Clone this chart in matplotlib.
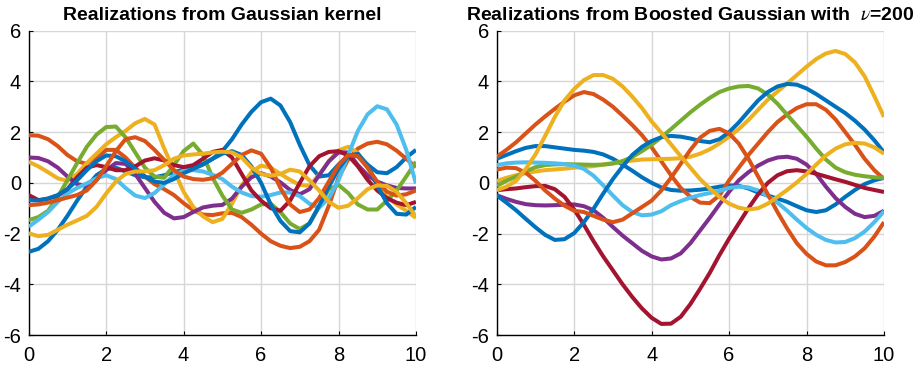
import numpy as np
import matplotlib
matplotlib.use("Agg")
import matplotlib.pyplot as plt

plt.rcParams['font.family'] = ['Liberation Sans', 'DejaVu Sans']
plt.rcParams['axes.unicode_minus'] = False
plt.rcParams['mathtext.fontset'] = 'stix'

# sample positions (every 0.25)
x = np.linspace(0, 10, 41)

# MATLAB default colour order
couleurs = ['#0072BD', '#D95319', '#EDB120', '#7E2F8E', '#77AC30', '#4DBEEE', '#A2142F']

# ---- Gaussian kernel (left) ----
g_bleu1 = [-2.72, -2.6, -2.3, -1.85, -1.3, -0.7, -0.15, 0.3, 0.55, 0.6, 0.45, 0.3, 0.22, 0.22, 0.3, 0.42,
           0.52, 0.62, 0.75, 0.95, 1.25, 1.72, 2.3, 2.8, 3.18, 3.32, 3.05, 2.4, 1.5, 0.7, 0.25, 0.3,
           0.72, 1.08, 1.05, 0.72, 0.42, 0.38, 0.62, 1.0, 1.3]
g_orange1 = [1.88, 1.86, 1.72, 1.45, 1.1, 0.85, 0.75, 0.95, 1.3, 1.3, 1.0, 0.6, 0.25, -0.05, -0.25, -0.48,
             -0.8, -1.08, -1.25, -1.27, -1.2, -1.18, -1.35, -1.65, -2.0, -2.3, -2.48, -2.57, -2.52, -2.3, -1.85, -0.9,
             0.2, 0.92, 1.35, 1.55, 1.62, 1.52, 1.27, 0.95, 0.62]
g_jaune1 = [0.83, 0.65, 0.42, 0.18, 0.08, 0.35, 0.78, 1.15, 1.52, 1.8, 2.05, 2.35, 2.52, 2.3, 1.35, 0.5,
            -0.35, -0.95, -1.32, -1.55, -1.42, -0.82, -0.1, 0.42, 0.68, 0.6, 0.35, 0.12, -0.08, -0.12, 0.32, 0.85,
            1.28, 1.42, 1.18, 0.6, -0.1, -0.55, -0.85, -1.1, -1.38]
g_violet = [1.0, 0.98, 0.85, 0.6, 0.25, -0.05, -0.12, 0.12, 0.5, 0.78, 0.75, 0.35, -0.2, -0.75, -1.18, -1.4,
            -1.35, -1.15, -0.97, -0.9, -0.87, -0.62, -0.15, 0.22, 0.38, 0.25, 0.02, -0.28, -0.45, -0.25, 0.3, 0.85,
            1.2, 1.2, 0.7, 0.3, 0.05, -0.1, -0.2, -0.22, -0.22]
g_vert = [-1.47, -1.35, -1.1, -0.55, 0.1, 0.78, 1.42, 1.9, 2.2, 2.22, 1.8, 1.2, 0.6, 0.25, 0.2, 0.7,
          1.25, 1.55, 1.1, 0.2, -0.5, -1.05, -1.18, -1.05, -0.85, -0.82, -1.15, -1.6, -1.82, -1.6, -0.95, -0.25,
          -0.08, -0.4, -0.85, -1.05, -1.05, -0.7, -0.3, 0.25, 0.83]
g_ciel = [-1.73, -1.45, -1.15, -0.75, -0.42, -0.2, -0.02, 0.18, 0.3, 0.15, -0.2, -0.5, -0.6, -0.4, -0.05, 0.3,
          0.48, 0.5, 0.45, 0.32, 0.15, -0.15, -0.38, -0.52, -0.55, -0.48, -0.38, -0.38, -0.52, -0.82, -0.98, -0.6,
          0.1, 1.1, 2.05, 2.7, 3.02, 2.9, 2.3, 1.3, -0.02]
g_bordeaux = [-0.48, -0.68, -0.62, -0.5, -0.25, 0.22, 0.6, 0.7, 0.62, 0.5, 0.5, 0.65, 0.88, 0.97, 0.88, 0.7,
              0.62, 0.7, 0.95, 1.22, 1.3, 1.0, 0.35, -0.3, -0.7, -1.0, -1.1, -0.7, 0.0, 0.65, 1.05, 1.22,
              1.25, 1.08, 0.65, 0.12, -0.3, -0.6, -0.78, -0.88, -0.75]
g_bleu2 = [-0.68, -0.7, -0.62, -0.48, -0.25, 0.1, 0.5, 0.85, 1.08, 1.05, 0.85, 0.55, 0.25, 0.05, 0.0, 0.15,
           0.38, 0.55, 0.72, 0.95, 1.15, 1.25, 1.1, 0.65, 0.0, -0.85, -1.5, -1.9, -1.95, -1.6, -0.9, -0.15,
           0.55, 1.05, 1.15, 0.7, -0.1, -0.8, -1.22, -1.25, -0.95]
g_orange2 = [-0.88, -0.85, -0.78, -0.68, -0.58, -0.48, -0.3, 0.1, 0.65, 1.25, 1.72, 1.8, 1.65, 1.3, 0.9, 0.5,
             0.25, 0.15, 0.12, 0.18, 0.4, 0.75, 1.1, 1.28, 1.15, 0.6, -0.2, -0.85, -1.15, -1.05, -0.6, 0.05,
             0.7, 1.1, 1.05, 0.6, 0.05, -0.35, -0.5, -0.45, -0.3]
g_jaune2 = [-1.99, -2.1, -2.05, -1.85, -1.65, -1.48, -1.3, -0.95, -0.42, 0.05, 0.35, 0.45, 0.45, 0.5, 0.7, 0.95,
            1.08, 1.12, 1.15, 1.2, 1.23, 1.2, 1.0, 0.6, 0.35, 0.28, 0.35, 0.52, 0.45, 0.1, -0.3, -0.75,
            -0.98, -0.9, -0.6, -0.25, -0.1, -0.12, -0.35, -0.8, -1.33]

# ---- Boosted Gaussian (right) ----
b_bleu1 = [0.95, 1.1, 1.25, 1.38, 1.45, 1.45, 1.4, 1.35, 1.3, 1.27, 1.22, 1.12, 0.95, 0.72, 0.48, 0.22,
           0.0, -0.18, -0.28, -0.31, -0.3, -0.27, -0.22, -0.15, -0.1, -0.12, -0.22, -0.38, -0.5, -0.62, -0.75, -0.92,
           -1.08, -1.15, -1.08, -0.85, -0.55, -0.28, -0.05, 0.1, 0.2]
b_orange1 = [1.03, 1.3, 1.6, 1.95, 2.3, 2.62, 2.92, 3.2, 3.45, 3.58, 3.5, 3.28, 3.0, 2.65, 2.28, 1.88,
             1.4, 0.85, 0.3, -0.2, -0.55, -0.78, -0.8, -0.5, 0.1, 0.6, 1.1, 1.55, 2.0, 2.4, 2.7, 2.95,
             3.1, 3.1, 2.88, 2.5, 2.0, 1.5, 0.95, 0.5, 0.15]
b_jaune1 = [0.07, 0.2, 0.3, 0.38, 0.45, 0.5, 0.53, 0.56, 0.6, 0.63, 0.66, 0.72, 0.78, 0.83, 0.88, 0.92,
            0.93, 0.94, 0.95, 0.97, 1.03, 1.15, 1.32, 1.55, 1.82, 2.12, 2.48, 2.88, 3.28, 3.6, 3.92, 4.25,
            4.58, 4.88, 5.1, 5.2, 5.08, 4.75, 4.2, 3.42, 2.6]
b_violet = [-0.49, -0.63, -0.75, -0.84, -0.88, -0.89, -0.88, -0.86, -0.85, -0.92, -1.08, -1.38, -1.74, -2.08, -2.38, -2.68,
            -2.9, -3.02, -2.98, -2.78, -2.38, -1.88, -1.38, -0.85, -0.35, 0.1, 0.42, 0.68, 0.88, 1.0, 1.03, 0.95,
            0.72, 0.35, -0.15, -0.6, -0.95, -1.22, -1.35, -1.3, -1.1]
b_vert = [-0.12, 0.08, 0.25, 0.45, 0.62, 0.7, 0.73, 0.74, 0.73, 0.72, 0.71, 0.72, 0.76, 0.86, 1.02, 1.25,
          1.5, 1.8, 2.12, 2.45, 2.78, 3.08, 3.35, 3.58, 3.72, 3.8, 3.82, 3.72, 3.48, 3.12, 2.68, 2.25,
          1.82, 1.35, 0.92, 0.6, 0.42, 0.32, 0.26, 0.22, 0.2]
b_ciel = [0.7, 0.77, 0.8, 0.81, 0.8, 0.79, 0.77, 0.74, 0.68, 0.55, 0.28, -0.1, -0.5, -0.88, -1.15, -1.28,
          -1.25, -1.12, -0.88, -0.72, -0.58, -0.48, -0.4, -0.32, -0.2, -0.15, -0.18, -0.3, -0.52, -0.78, -1.1, -1.45,
          -1.78, -2.05, -2.25, -2.35, -2.33, -2.18, -1.92, -1.55, -1.12]
b_bordeaux = [-0.29, -0.25, -0.22, -0.17, -0.13, -0.12, -0.25, -0.55, -1.05, -1.65, -2.3, -2.9, -3.45, -4.0, -4.5, -4.95,
              -5.32, -5.56, -5.55, -5.28, -4.78, -4.18, -3.55, -2.85, -2.2, -1.6, -1.0, -0.45, 0.0, 0.3, 0.46, 0.5,
              0.45, 0.36, 0.25, 0.14, 0.04, -0.08, -0.2, -0.28, -0.36]
b_bleu2 = [-0.49, -0.78, -1.08, -1.42, -1.75, -2.05, -2.25, -2.22, -1.98, -1.55, -1.02, -0.42, 0.15, 0.65, 1.1, 1.42,
           1.65, 1.8, 1.85, 1.82, 1.75, 1.65, 1.6, 1.72, 2.0, 2.38, 2.82, 3.25, 3.58, 3.8, 3.9, 3.87,
           3.72, 3.5, 3.25, 3.0, 2.75, 2.45, 2.1, 1.68, 1.2]
b_orange2 = [0.52, 0.6, 0.58, 0.4, 0.08, -0.3, -0.62, -0.9, -1.1, -1.15, -1.3, -1.45, -1.55, -1.45, -1.2, -0.95,
             -0.7, -0.3, 0.2, 0.75, 1.3, 1.78, 2.05, 2.13, 1.95, 1.55, 0.95, 0.25, -0.45, -1.15, -1.8, -2.38,
             -2.8, -3.1, -3.25, -3.25, -3.12, -2.9, -2.58, -2.12, -1.55]
b_jaune2 = [-0.29, -0.15, 0.08, 0.55, 1.12, 1.85, 2.6, 3.25, 3.7, 4.05, 4.25, 4.25, 4.1, 3.8, 3.4, 2.95,
            2.42, 1.98, 1.52, 1.05, 0.6, 0.15, -0.22, -0.55, -0.82, -0.98, -1.05, -1.0, -0.82, -0.55, -0.28, 0.02,
            0.35, 0.72, 1.08, 1.35, 1.52, 1.58, 1.55, 1.4, 1.15]

gauche = [g_bleu1, g_orange1, g_jaune1, g_violet, g_vert, g_ciel, g_bordeaux, g_bleu2, g_orange2, g_jaune2]
droite = [b_bleu1, b_orange1, b_jaune1, b_violet, b_vert, b_ciel, b_bordeaux, b_bleu2, b_orange2, b_jaune2]

fig = plt.figure(figsize=(9.17, 3.65), dpi=100)
ax1 = fig.add_axes([0.0313, 0.082, 0.4223, 0.834])
ax2 = fig.add_axes([0.5417, 0.082, 0.4223, 0.834])

titres = ['Realizations from Gaussian kernel',
          r'Realizations from Boosted Gaussian with  $\mathit{\nu}$=200']

for ax, courbes, titre in zip([ax1, ax2], [gauche, droite], titres):
    for i, y in enumerate(courbes):
        ax.plot(x, y, color=couleurs[i % 7], lw=2.9, solid_joinstyle='round',
                solid_capstyle='butt', zorder=3)
    ax.set_xlim(0, 10)
    ax.set_ylim(-6, 6)
    ax.set_xticks([0, 2, 4, 6, 8, 10])
    ax.set_yticks([-6, -4, -2, 0, 2, 4, 6])
    ax.grid(True, color='#d6d6d6', lw=1.0, zorder=0)
    ax.spines['top'].set_visible(False)
    ax.spines['right'].set_visible(False)
    ax.spines['left'].set_linewidth(1.0)
    ax.spines['bottom'].set_linewidth(1.0)
    ax.tick_params(direction='in', length=3, labelsize=14.5, colors='black')
    ax.tick_params(axis='x', pad=8)
    ax.tick_params(axis='y', pad=5.5)
    ax.set_title(titre, fontsize=14, fontweight='bold', pad=8)

fig.savefig('out.png', dpi=100)
